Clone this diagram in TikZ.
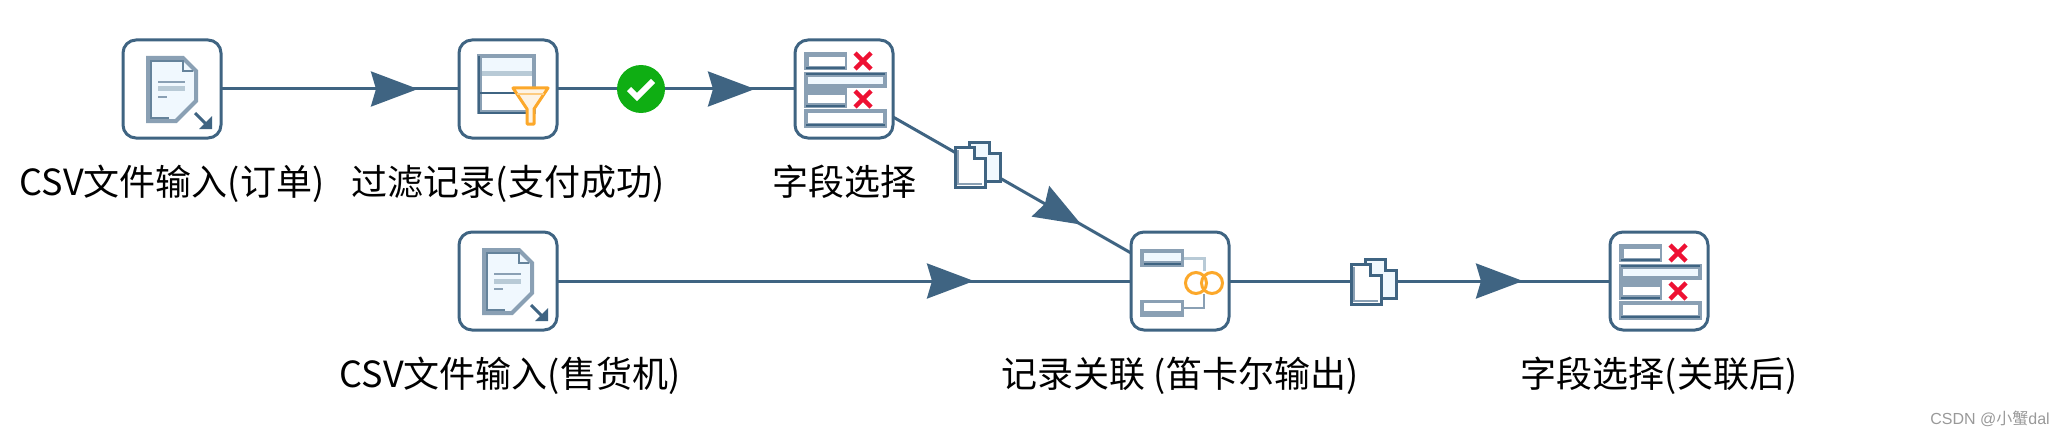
\documentclass[tikz,border=0pt]{standalone}
\usepackage{fontspec}
\setmainfont{Noto Sans CJK SC}
\newfontfamily\marksans{Liberation Sans}
\usepackage{xcolor}
\usetikzlibrary{positioning, arrows.meta, decorations.markings}
\definecolor{flowblue}{HTML}{3F6482}
\definecolor{midblue}{HTML}{8AA0B4}
\definecolor{paleblue}{HTML}{F0F8FE}
\definecolor{bandblue}{HTML}{B8CAD6}
\definecolor{funnelorange}{HTML}{FCA82A}
\definecolor{funnelfill}{HTML}{FDF3E4}
\definecolor{crossred}{HTML}{EE1133}
\definecolor{okgreen}{HTML}{0FAE13}
\tikzset{
    stepbox/.style={rectangle, draw=flowblue, fill=white, line width=3pt, rounded corners=13pt, minimum size=98pt, inner sep=0pt, outer sep=0pt},
    steptext/.style={font=\fontsize{36}{40}\selectfont, text=black, inner sep=0pt, outer sep=0pt, text height=30pt, text depth=8pt},
    hop/.style={draw=flowblue, line width=3pt},
    tipat/.style={postaction={decorate}, decoration={markings, mark=at position #1 with {\arrow[flowblue]{Stealth[length=47pt, width=35pt, inset=5pt]}}}},
    rim/.style={draw=flowblue, line width=3pt},
    softrim/.style={draw=midblue, line width=4pt},
    xmark/.pic={\draw[crossred, line width=4.5pt] (-8,-8) -- (8,8) (-8,8) -- (8,-8);},
    csvicon/.pic={
        \draw[softrim, fill=paleblue] (-24,-31) -- (11,-31) -- (24,-18) -- (24,12) -- (4,32) -- (-24,32) -- cycle;
        \draw[flowblue!80, line width=2pt] (-3,29) -- (-21,29) -- (-21,-28) -- (11,-28) -- (11,-18) -- (21,-18);
        \draw[midblue, line width=2.5pt] (-14,-7) -- (13,-7);
        \draw[bandblue, line width=5pt] (-14,0) -- (13,0);
        \draw[midblue, line width=2.5pt] (-14,8) -- (-5,8);
        \draw[flowblue, line width=3pt] (23,24) -- (35,36);
        \fill[flowblue] (40,40) -- (27,40) -- (40,27) -- cycle;
    },
    filtericon/.pic={
        \fill[midblue] (-31,-35) rectangle (28,25);
        \fill[paleblue] (-26,-31) rectangle (24,-18);
        \fill[bandblue] (-26,-18) rectangle (24,-13);
        \fill[white] (-26,-13) rectangle (24,21);
        \draw[flowblue, line width=2.5pt] (-29,-33) -- (-29,24) -- (18,24);
        \draw[flowblue, line width=2.5pt] (-28,4) -- (26,4);
        \draw[funnelorange, line width=3pt, fill=funnelfill, line join=round] (5,-1) -- (40,-1) -- (26,20) -- (26,35) -- (19,35) -- (19,20) -- cycle;
        \draw[funnelorange!60, line width=2pt] (9,5) -- (36,5);
    },
    selecticon/.pic={
        \fill[midblue] (-40,-37) rectangle (3,-19);
        \fill[white] (-35,-32) rectangle (1,-23);
        \draw[flowblue, line width=2.5pt] (-38,-21) -- (1,-21);
        \fill[midblue] (-40,-17) rectangle (43,-1);
        \fill[midblue] (-40,-1) rectangle (3,19);
        \draw[flowblue, line width=2.5pt] (-38,-15) -- (41,-15);
        \fill[paleblue] (-36,-12) rectangle (39,-5);
        \fill[white] (-36,6) rectangle (1,14);
        \draw[flowblue, line width=2.5pt] (-38,17) -- (1,17);
        \fill[midblue] (-40,20) rectangle (43,39);
        \fill[white] (-36,24) rectangle (39,34);
        \draw[flowblue, line width=2.5pt] (-38,36) -- (41,36);
        \pic at (19,-28) {xmark};
        \pic at (19,10) {xmark};
    },
    joinicon/.pic={
        \draw[bandblue, line width=3pt] (3,-23) -- (24,-23) -- (24,-10);
        \draw[midblue, line width=2.5pt] (3,27) -- (24,27) -- (24,13);
        \fill[midblue] (-40,-32) rectangle (4,-14);
        \fill[paleblue] (-36,-28) rectangle (1,-20);
        \draw[flowblue, line width=2.5pt] (-36,-17) -- (1,-17);
        \fill[midblue] (-40,19) rectangle (4,36);
        \fill[white] (-36,22) rectangle (1,30);
        \draw[funnelorange, line width=3pt] (16,2) circle (10.5);
        \draw[funnelorange, line width=3pt] (32,2) circle (10.5);
    },
    copyicon/.pic={
        \draw[rim, fill=paleblue] (-8,-22) -- (12,-22) -- (12,-11) -- (23,-11) -- (23,17) -- (-8,17) -- cycle;
        \draw[rim, fill=white] (-22,-17) -- (-3,-17) -- (-3,-6) -- (8,-6) -- (8,23) -- (-22,23) -- cycle;
        \draw[midblue, line width=2pt] (-19,-14) -- (-19,20) -- (5,20);
    },
}
\begin{document}
\begin{tikzpicture}[x=1pt, y=-1pt]
    \useasboundingbox (0,0) rectangle (2057,436);
    \node[stepbox] (csvorder) at (172,89) {};
    \node[stepbox, right=238pt of csvorder] (filterpaid) {};
    \node[stepbox, right=238pt of filterpaid] (pickone) {};
    \node[stepbox] (csvvendor) at (508,281) {};
    \node[stepbox, right=574pt of csvvendor] (joinall) {};
    \node[stepbox, right=381pt of joinall] (picktwo) {};
    \node[steptext, below=27pt of csvorder] (csvordertext) {CSV文件输入(订单)};
    \node[steptext, below=27pt of filterpaid] (filterpaidtext) {过滤记录(支付成功)};
    \node[steptext, below=27pt of pickone] (pickonetext) {字段选择};
    \node[steptext, below=27pt of csvvendor, xshift=2pt] (csvvendortext) {CSV文件输入(售货机)};
    \node[steptext, below=27pt of joinall] (joinalltext) {记录关联 (笛卡尔输出)};
    \node[steptext, below=27pt of picktwo] (picktwotext) {字段选择(关联后)};
    \draw[hop, tipat=197pt] (csvorder) -- (filterpaid);
    \draw[hop, tipat=198pt] (filterpaid) -- (pickone);
    \draw[hop, tipat=217pt] (pickone) -- (joinall);
    \draw[hop, tipat=417pt] (csvvendor) -- (joinall);
    \draw[hop, tipat=294pt] (joinall) -- (picktwo);
    \node[circle, fill=okgreen, minimum size=48pt, inner sep=0pt] (paidok) at (641,89) {};
    \draw[white, line width=6pt] (629,89) -- (637,97) -- (653,81);
    \pic at (csvorder) {csvicon};
    \pic at (csvvendor) {csvicon};
    \pic at (filterpaid) {filtericon};
    \pic at (pickone) {selecticon};
    \pic at (picktwo) {selecticon};
    \pic at (joinall) {joinicon};
    \pic at (977,164) {copyicon};
    \pic at (1373,281) {copyicon};
    \node[font=\fontsize{16}{18}\selectfont, text=black!40, inner sep=0pt] (marktext) at (1990,419) {{\marksans CSDN @}小蟹{\marksans dal}};
\end{tikzpicture}
\end{document}
